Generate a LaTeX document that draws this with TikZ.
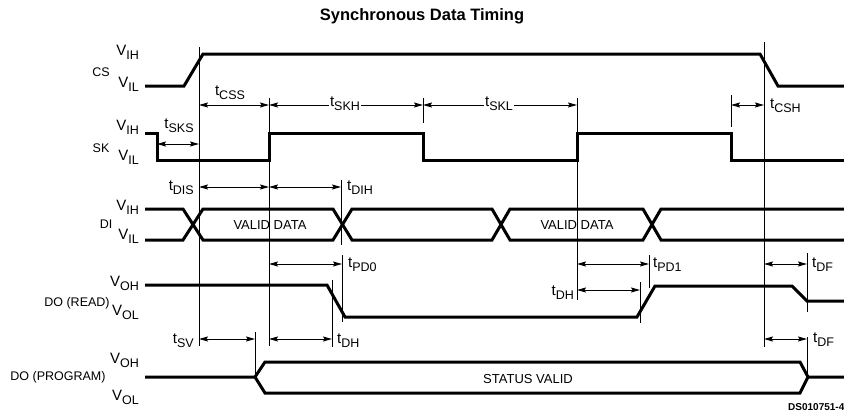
\documentclass[tikz,border=0pt]{standalone}
\usepackage{fontspec}
\setmainfont{Liberation Sans}
\usetikzlibrary{arrows.meta}
\tikzset{
  sig/.style={line width=3pt, line join=miter},
  guide/.style={line width=1pt},
  dim/.style={line width=0.9pt, {Stealth[length=9pt,width=5pt,inset=1.5pt]}-{Stealth[length=9pt,width=5pt,inset=1.5pt]}},
  lab/.style={font=\fontsize{12.5}{13}\selectfont, inner sep=0pt},
  tlab/.style={inner sep=0pt},
  wlab/.style={inner sep=1.5pt, fill=white},
}
\newcommand\tl[2]{{\fontsize{15}{15}\selectfont #1}\raisebox{-4.5pt}{\fontsize{12.5}{13}\selectfont #2}}
\begin{document}
\begin{tikzpicture}[x=1pt,y=-1pt]
\useasboundingbox (0,0) rectangle (844,415);
\node[inner sep=0pt] (title) at (422,16) {\bfseries\fontsize{16.5}{17}\selectfont Synchronous Data Timing};

% ---------- vertical guides ----------
\draw[guide] (199,47) -- (199,346);
\draw[guide] (269,98) -- (269,346);
\draw[guide] (423,98) -- (423,123);
\draw[guide] (577,98) -- (577,300);
\draw[guide] (731,95) -- (731,127);
\draw[guide] (764,42) -- (764,347);
\draw[guide] (341,180) -- (341,245);
\draw[guide] (342,255) -- (342,322);
\draw[guide] (332,280) -- (332,347);
\draw[guide] (649,255) -- (649,288);
\draw[guide] (640,282) -- (640,323);
\draw[guide] (807,253) -- (807,312);
\draw[guide] (807,337) -- (807,377);
\draw[guide] (255,332) -- (255,378);

% ---------- signals ----------
% CS
\draw[sig] (145,86) -- (184,86) -- (203,54) -- (760,54) -- (778,86) -- (844,86);
% SK
\draw[sig] (145,133) -- (157,133) -- (157,160) -- (269,160) -- (269,133) -- (423,133) -- (423,160) -- (577,160) -- (577,133) -- (731,133) -- (731,160) -- (844,160);
% DI
\draw[sig] (145,209) -- (183,209) -- (203,240) -- (333,240) -- (352,209) -- (492,209) -- (510,240) -- (643,240) -- (661,209) -- (844,209);
\draw[sig] (145,240) -- (183,240) -- (203,209) -- (333,209) -- (352,240) -- (492,240) -- (510,209) -- (643,209) -- (661,240) -- (844,240);
% DO (READ)
\draw[sig] (145,285) -- (327,285) -- (345,317) -- (637,317) -- (655,286) -- (792,286) -- (807,301) -- (844,301);
% DO (PROGRAM)
\draw[sig] (145,377) -- (255,377) -- (265,362) -- (800,362) -- (808,377) -- (844,377);
\draw[sig] (255,377) -- (265,393) -- (800,393) -- (808,377);

% ---------- dimension arrows ----------
\draw[dim] (157,144) -- (199,144);
\draw[dim] (199,105) -- (269,105);
\draw[dim] (269,105) -- (423,105);
\draw[dim] (423,105) -- (577,105);
\draw[dim] (731,105) -- (764,105);
\draw[dim] (199,187) -- (269,187);
\draw[dim] (269,187) -- (341,187);
\draw[dim] (269,264) -- (342,264);
\draw[dim] (577,264) -- (649,264);
\draw[dim] (764,264) -- (807,264);
\draw[dim] (577,290) -- (640,290);
\draw[dim] (199,339) -- (255,339);
\draw[dim] (269,339) -- (332,339);
\draw[dim] (764,339) -- (807,339);

% ---------- timing labels ----------
\node[tlab, anchor=base] (tsks) at (179,128) {\tl{t}{SKS}};
\node[tlab, anchor=base] (tcss) at (230,95) {\tl{t}{CSS}};
\node[wlab, anchor=base] (tskh) at (345,106) {\tl{t}{SKH}};
\node[wlab, anchor=base] (tskl) at (499,106) {\tl{t}{SKL}};
\node[tlab, anchor=base west] (tcsh) at (770,108) {\tl{t}{CSH}};
\node[tlab, anchor=base east] (tdis) at (194,190) {\tl{t}{DIS}};
\node[tlab, anchor=base west] (tdih) at (347,190) {\tl{t}{DIH}};
\node[tlab, anchor=base west] (tpd0) at (348,267) {\tl{t}{PD0}};
\node[tlab, anchor=base west] (tpd1) at (653,267) {\tl{t}{PD1}};
\node[tlab, anchor=base west] (tdf1) at (812,267) {\tl{t}{DF}};
\node[tlab, anchor=base east] (tdh2) at (574,295) {\tl{t}{DH}};
\node[tlab, anchor=base east] (tsv) at (194,343) {\tl{t}{SV}};
\node[tlab, anchor=base west] (tdh1) at (337,343) {\tl{t}{DH}};
\node[tlab, anchor=base west] (tdf2) at (813,342) {\tl{t}{DF}};

% ---------- level labels ----------
\node[tlab, anchor=base east] (csh) at (139,55) {\tl{V}{IH}};
\node[tlab, anchor=base east] (csl) at (139,87) {\tl{V}{IL}};
\node[tlab, anchor=base east] (skh) at (139,130) {\tl{V}{IH}};
\node[tlab, anchor=base east] (skl) at (139,160) {\tl{V}{IL}};
\node[tlab, anchor=base east] (dih) at (139,210) {\tl{V}{IH}};
\node[tlab, anchor=base east] (dil) at (139,239) {\tl{V}{IL}};
\node[tlab, anchor=base east] (drh) at (139,286) {\tl{V}{OH}};
\node[tlab, anchor=base east] (drl) at (139,315) {\tl{V}{OL}};
\node[tlab, anchor=base east] (dph) at (139,363) {\tl{V}{OH}};
\node[tlab, anchor=base east] (dpl) at (139,400) {\tl{V}{OL}};

% ---------- signal names ----------
\node[lab] (cs) at (101,72) {CS};
\node[lab] (sk) at (101,148) {SK};
\node[lab] (di) at (106,224) {DI};
\node[lab] (dor) at (77,303) {DO (READ)};
\node[lab] (dop) at (58,377) {DO (PROGRAM)};

% ---------- data texts ----------
\node[lab, font=\fontsize{13}{13}\selectfont] (vd1) at (270,225) {VALID DATA};
\node[lab, font=\fontsize{13}{13}\selectfont] (vd2) at (577,225) {VALID DATA};
\node[lab, font=\fontsize{13}{13}\selectfont] (sv) at (528,379) {STATUS VALID};

\node[inner sep=0pt, anchor=west, font=\bfseries\fontsize{10}{10}\selectfont] (ds) at (788,407) {DS010751-4};
\end{tikzpicture}
\end{document}
